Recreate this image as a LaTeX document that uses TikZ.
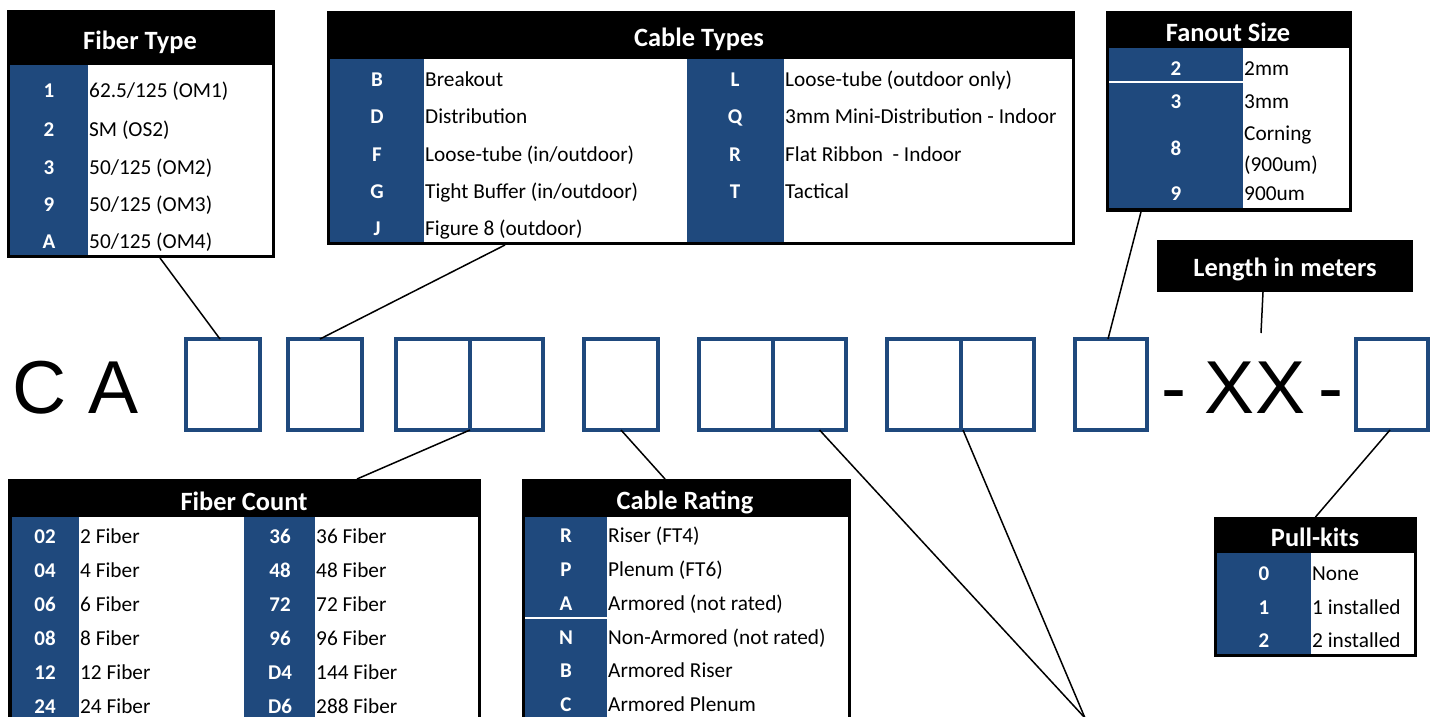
\documentclass[tikz,border=0pt]{standalone}
\usepackage{fontspec}
\setmainfont{Carlito}
\newfontfamily\arialf{Liberation Sans}
\usetikzlibrary{calc}
\definecolor{navy}{RGB}{31,73,125}
\begin{document}
\begin{tikzpicture}[x=1pt,y=-1pt,
 frame/.style={fill=black,inner sep=0,outer sep=0},
 hdr/.style={text=white,font=\fontsize{26.4}{28}\selectfont\bfseries,anchor=base,inner sep=0},
 code/.style={text=white,font=\fontsize{21}{24}\selectfont\bfseries,anchor=base,inner sep=0},
 desc/.style={text=black,font=\fontsize{21.3}{24}\selectfont,anchor=base west,inner sep=0},
 cbox/.style={draw=navy,line width=3.2pt,minimum height=91pt,inner sep=0,outer sep=0},
 big/.style={font=\arialf\fontsize{75}{80}\selectfont,anchor=base,inner sep=0},
 conn/.style={draw=black,line width=1.5pt}
]
\useasboundingbox (0,0) rectangle (1433,717);
\fill[white] (0,0) rectangle (1433,717);

% ---------- code row ----------
\node[big] (cc) at (39.5,413) {C};
\node[big] (ca) at (113.5,413) {A};
\node[cbox,minimum width=74pt] (b1) at (223,384.5) {};
\node[cbox,minimum width=74pt] (b2) at (325,384.5) {};
\node[cbox,minimum width=74pt] (b3a) at (433,384.5) {};
\node[cbox,minimum width=73pt] (b3b) at (506.5,384.5) {};
\node[cbox,minimum width=74pt] (b4) at (621,384.5) {};
\node[cbox,minimum width=74pt] (b5a) at (736,384.5) {};
\node[cbox,minimum width=73pt] (b5b) at (809.5,384.5) {};
\node[cbox,minimum width=74pt] (b6a) at (924,384.5) {};
\node[cbox,minimum width=73pt] (b6b) at (997.5,384.5) {};
\node[cbox,minimum width=72pt] (b7) at (1111,384.5) {};
\node[big] (d1) at (1174,413) {-};
\node[big] (xx) at (1255,413) {XX};
\node[big] (d2) at (1331,413) {-};
\node[cbox,minimum width=72pt] (b8) at (1392,384.5) {};

% ---------- table frames ----------
\node[frame,minimum width=268pt,minimum height=248pt] (ft) at (141,134) {};
\node[frame,minimum width=748pt,minimum height=234pt] (ct) at (701,128) {};
\node[frame,minimum width=246pt,minimum height=201pt] (fs) at (1229,111.5) {};
\node[frame,minimum width=256pt,minimum height=52pt] (len) at (1285,266) {};
\node[frame,minimum width=473pt,minimum height=251pt] (fc) at (244.5,604.5) {};
\node[frame,minimum width=329pt,minimum height=251pt] (cr) at (686.5,604.5) {};
\node[frame,minimum width=203pt,minimum height=140pt] (pk) at (1315.5,587) {};

% ---------- connectors ----------
\coordinate (conv) at (1085,718);
\coordinate (lenend) at (1261,333);
\draw[conn] ($(ft.south)+(19,0)$) -- ($(b1.north)+(-3,0)$);
\draw[conn] ($(ct.south)+(-196,0)$) -- ($(b2.north)+(-5,0)$);
\draw[conn] ($(fs.south)+(-87,-4)$) -- ($(b7.north)+(-3,0)$);
\draw[conn] ($(len.south)+(-22,0)$) -- (lenend);
\draw[conn] (b3a.south east) -- ($(fc.north)+(112.5,0)$);
\draw[conn] (b4.south) -- ($(cr.north)+(-21.5,0)$);
\draw[conn] ($(b5b.south)+(10,0)$) -- (conv);
\draw[conn] ($(b6b.south west)+(2,0)$) -- (conv);
\draw[conn] ($(b8.south)+(-2,0)$) -- (pk.north);

% ---------- Fiber Type ----------
\fill[white] (10,65) rectangle (272,255);
\fill[navy] (10,65) rectangle (88,255);
\node[hdr] (fth) at (140,50) {Fiber Type};
\foreach \c/\d/\y [count=\i] in {1/{62.5/125 (OM1)}/97, 2/{SM (OS2)}/136, 3/{50/125 (OM2)}/174, 9/{50/125 (OM3)}/211, A/{50/125 (OM4)}/248}{
  \node[code] (ftc\i) at (49,\y) {\c};
  \node[desc] (ftd\i) at (89,\y) {\d};
}

% ---------- Cable Types ----------
\fill[white] (330,59) rectangle (1072,242);
\fill[navy] (330,59) rectangle (424,242);
\fill[navy] (687,59) rectangle (784,242);
\node[hdr] (cth) at (699,47) {Cable Types};
\foreach \c/\d/\y [count=\i] in {B/Breakout/86, D/Distribution/123, F/{Loose-tube (in/outdoor)}/161, G/{Tight Buffer (in/outdoor)}/198, J/{Figure 8 (outdoor)}/235}{
  \node[code] (ctc\i) at (377,\y) {\c};
  \node[desc] (ctd\i) at (425,\y) {\d};
}
\foreach \c/\d/\y [count=\i] in {L/{Loose-tube (outdoor only)}/86, Q/{3mm Mini-Distribution - Indoor}/123, R/{Flat Ribbon~ - Indoor}/161, T/Tactical/198}{
  \node[code] (ctk\i) at (735,\y) {\c};
  \node[desc] (cte\i) at (785,\y) {\d};
}

% ---------- Fanout Size ----------
\fill[white] (1109,48) rectangle (1349,208);
\fill[navy] (1109,48) rectangle (1243,208);
\draw[white,line width=1.5pt] (1109,82) -- (1243,82);
\node[hdr] (fsh) at (1228,42) {Fanout Size};
\node[code] (fsc1) at (1176,75) {2};
\node[desc] (fsd1) at (1244,75) {2mm};
\node[code] (fsc2) at (1176,108) {3};
\node[desc] (fsd2) at (1244,108) {3mm};
\node[code] (fsc3) at (1176,155) {8};
\node[desc] (fsd3) at (1244,140) {Corning};
\node[desc] (fsd4) at (1244,171) {(900um)};
\node[code] (fsc4) at (1176,200) {9};
\node[desc] (fsd5) at (1244,200) {900um};

% ---------- Length ----------
\node[hdr] (lenh) at (1285,276) {Length in meters};

% ---------- Fiber Count ----------
\fill[white] (12,517) rectangle (478,740);
\fill[navy] (12,517) rectangle (79,740);
\fill[navy] (244,517) rectangle (315,740);
\node[hdr] (fch) at (244,510) {Fiber Count};
\foreach \c/\d/\y [count=\i] in {02/{2 Fiber}/543, 04/{4 Fiber}/577, 06/{6 Fiber}/611, 08/{8 Fiber}/645, 12/{12 Fiber}/679, 24/{24 Fiber}/713}{
  \node[code] (fcc\i) at (45,\y) {\c};
  \node[desc] (fcd\i) at (80,\y) {\d};
}
\foreach \c/\d/\y [count=\i] in {36/{36 Fiber}/543, 48/{48 Fiber}/577, 72/{72 Fiber}/611, 96/{96 Fiber}/645, D4/{144 Fiber}/679, D6/{288 Fiber}/713}{
  \node[code] (fck\i) at (280,\y) {\c};
  \node[desc] (fce\i) at (316,\y) {\d};
}

% ---------- Cable Rating ----------
\fill[white] (525,517) rectangle (848,740);
\fill[navy] (525,517) rectangle (607,740);
\draw[white,line width=1.5pt] (525,618) -- (607,618);
\node[hdr] (crh) at (685,509) {Cable Rating};
\foreach \c/\d/\y [count=\i] in {R/{Riser (FT4)}/542, P/{Plenum (FT6)}/576, A/{Armored (not rated)}/610, N/{Non-Armored (not rated)}/644, B/{Armored Riser}/677, C/{Armored Plenum}/711}{
  \node[code] (crc\i) at (566,\y) {\c};
  \node[desc] (crd\i) at (608,\y) {\d};
}

% ---------- Pull-kits ----------
\fill[white] (1217,553) rectangle (1414,654);
\fill[navy] (1217,553) rectangle (1311,654);
\node[hdr] (pkh) at (1315,546) {Pull-kits};
\foreach \c/\d/\y [count=\i] in {0/None/580, 1/{1 installed}/614, 2/{2 installed}/647}{
  \node[code] (pkc\i) at (1264,\y) {\c};
  \node[desc] (pkd\i) at (1312,\y) {\d};
}
\end{tikzpicture}
\end{document}
